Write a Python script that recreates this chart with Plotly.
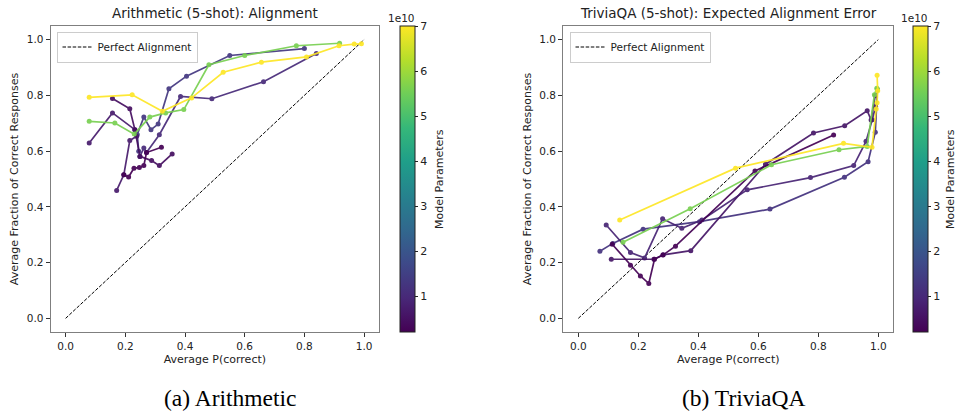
import plotly.graph_objects as go
from plotly.colors import sample_colorscale

# ---------------- data ----------------
CMIN, CMAX = 0.2e10, 7.0e10
cbar_ticks = [1e10, 2e10, 3e10, 4e10, 5e10, 6e10, 7e10]
cbar_labels = ["1", "2", "3", "4", "5", "6", "7"]
axis_ticks = [0.0, 0.2, 0.4, 0.6, 0.8, 1.0]

# Arithmetic (5-shot)
arith_params = [1.3e10, 1.0e10, 0.7e10, 0.45e10, 0.2e10, 5.6e10, 7.0e10]
arith_a_x = [0.80, 0.55, 0.405, 0.346, 0.31, 0.286, 0.262, 0.24, 0.245]
arith_a_y = [0.968, 0.943, 0.869, 0.824, 0.697, 0.677, 0.722, 0.66, 0.60]
arith_b_x = [0.84, 0.663, 0.49, 0.385, 0.314, 0.271, 0.262, 0.249]
arith_b_y = [0.95, 0.849, 0.788, 0.796, 0.659, 0.595, 0.611, 0.581]
arith_c_x = [0.079, 0.157, 0.232, 0.238, 0.215, 0.195, 0.171]
arith_c_y = [0.629, 0.737, 0.677, 0.653, 0.638, 0.515, 0.459]
arith_d_x = [0.157, 0.215, 0.232, 0.249, 0.288, 0.314, 0.357]
arith_d_y = [0.789, 0.752, 0.677, 0.581, 0.566, 0.548, 0.590]
arith_e_x = [0.195, 0.211, 0.229, 0.247, 0.262, 0.271, 0.321]
arith_e_y = [0.515, 0.507, 0.539, 0.541, 0.548, 0.595, 0.614]
arith_g_x = [0.079, 0.165, 0.230, 0.282, 0.335, 0.396, 0.480, 0.600, 0.773, 0.918]
arith_g_y = [0.707, 0.701, 0.661, 0.722, 0.737, 0.749, 0.910, 0.943, 0.978, 0.987]
arith_y_x = [0.079, 0.223, 0.324, 0.422, 0.528, 0.656, 0.807, 0.916, 0.967, 0.991]
arith_y_y = [0.793, 0.802, 0.743, 0.791, 0.883, 0.919, 0.938, 0.978, 0.984, 0.985]

# TriviaQA (5-shot)
trivia_params = [1.2e10, 0.9e10, 0.6e10, 0.2e10, 5.6e10, 7.0e10]
trivia_a_x = [0.072, 0.115, 0.216, 0.404, 0.639, 0.887, 0.966, 0.990, 0.997]
trivia_a_y = [0.241, 0.269, 0.320, 0.347, 0.392, 0.506, 0.562, 0.668, 0.820]
trivia_b_x = [0.093, 0.174, 0.221, 0.281, 0.345, 0.412, 0.563, 0.774, 0.918, 0.959, 0.980, 0.991]
trivia_b_y = [0.335, 0.236, 0.217, 0.357, 0.323, 0.353, 0.461, 0.505, 0.548, 0.635, 0.713, 0.760]
trivia_c_x = [0.110, 0.252, 0.283, 0.375, 0.624, 0.784, 0.888, 0.963, 0.976, 0.990]
trivia_c_y = [0.212, 0.212, 0.228, 0.243, 0.553, 0.665, 0.691, 0.745, 0.712, 0.800]
trivia_d_x = [0.113, 0.174, 0.207, 0.235, 0.254, 0.282, 0.324, 0.589, 0.851]
trivia_d_y = [0.266, 0.191, 0.152, 0.125, 0.212, 0.227, 0.259, 0.529, 0.658]
trivia_g_x = [0.149, 0.373, 0.644, 0.869, 0.963, 0.987, 0.995, 0.997]
trivia_g_y = [0.273, 0.393, 0.551, 0.605, 0.617, 0.802, 0.826, 0.823]
trivia_y_x = [0.138, 0.524, 0.884, 0.979, 0.993, 0.996, 0.998, 0.996]
trivia_y_y = [0.353, 0.539, 0.628, 0.614, 0.751, 0.774, 0.817, 0.872]

diag = [0.0, 1.0]

arith_series = [(arith_a_x, arith_a_y), (arith_b_x, arith_b_y), (arith_c_x, arith_c_y),
                (arith_d_x, arith_d_y), (arith_e_x, arith_e_y), (arith_g_x, arith_g_y),
                (arith_y_x, arith_y_y)]
trivia_series = [(trivia_a_x, trivia_a_y), (trivia_b_x, trivia_b_y), (trivia_c_x, trivia_c_y),
                 (trivia_d_x, trivia_d_y), (trivia_g_x, trivia_g_y), (trivia_y_x, trivia_y_y)]

# ---------------- figure ----------------
W, H = 959, 415
def px(x):
    return x / W
def py(y):
    return 1 - y / H

FONT = "DejaVu Sans"
TXT = "#222"
fig = go.Figure()

def color_of(p):
    return sample_colorscale("Viridis", [(p - CMIN) / (CMAX - CMIN)])[0]

panels = [
    dict(xa="x", ya="y", series=arith_series, params=arith_params, legend="legend"),
    dict(xa="x2", ya="y2", series=trivia_series, params=trivia_params, legend="legend2"),
]

for pnl in panels:
    fig.add_trace(go.Scatter(
        x=diag, y=diag, mode="lines", name="Perfect Alignment",
        line=dict(color="black", width=1, dash="3.5px,1.6px"),
        xaxis=pnl["xa"], yaxis=pnl["ya"], legend=pnl["legend"], showlegend=True))
    for (sx, sy), p in zip(pnl["series"], pnl["params"]):
        c = color_of(p)
        fig.add_trace(go.Scatter(
            x=sx, y=sy, mode="lines+markers",
            line=dict(color=c, width=1.7), marker=dict(color=c, size=5),
            opacity=0.92, xaxis=pnl["xa"], yaxis=pnl["ya"], showlegend=False,
            hoverinfo="skip"))

# colorbars (dummy traces)
cb_x = [px(400), px(913)]
for i, (xa, ya) in enumerate([("x", "y"), ("x2", "y2")]):
    fig.add_trace(go.Scatter(
        x=[None], y=[None], mode="markers", xaxis=xa, yaxis=ya, showlegend=False,
        marker=dict(color=[CMIN], cmin=CMIN, cmax=CMAX, colorscale="Viridis", showscale=True,
                    colorbar=dict(x=cb_x[i], xanchor="left", xref="paper",
                                  y=py(332), yanchor="bottom", len=(332 - 26) / H, lenmode="fraction",
                                  thickness=15, thicknessmode="pixels",
                                  outlinewidth=1, outlinecolor=TXT,
                                  tickvals=cbar_ticks, ticktext=cbar_labels,
                                  ticks="outside", ticklen=3, tickcolor=TXT,
                                  tickfont=dict(family=FONT, size=11, color=TXT),
                                  xpad=0, ypad=0))))

axis_common = dict(range=[-0.05, 1.05], tickvals=axis_ticks, tickformat=".1f",
                   showgrid=False, zeroline=False, showline=True, mirror=True,
                   linecolor="#7f7f7f", linewidth=1.3, ticks="outside", ticklen=4,
                   tickcolor="#333", tickfont=dict(family=FONT, size=10.5, color=TXT))

xt = dict(text="Average P(correct)", font=dict(family=FONT, size=11, color=TXT), standoff=4)
yt = dict(text="Average Fraction of Correct Responses", font=dict(family=FONT, size=11, color=TXT), standoff=5)
ydom = [py(332.3), py(25.7)]
leg_common = dict(xanchor="left", yanchor="top",
                  bgcolor="rgba(255,255,255,0.8)", bordercolor="#cccccc", borderwidth=1,
                  font=dict(family=FONT, size=10.5, color=TXT), itemwidth=30, tracegroupgap=0)
fig.update_layout(
    width=W, height=H, margin=dict(l=0, r=0, t=0, b=0),
    paper_bgcolor="white", plot_bgcolor="white",
    xaxis=dict(domain=[px(50.7), px(379)], anchor="y", **axis_common, title=xt),
    yaxis=dict(domain=ydom, anchor="x", **axis_common, title=yt),
    xaxis2=dict(domain=[px(563.3), px(893.3)], anchor="y2", **axis_common, title=xt),
    yaxis2=dict(domain=ydom, anchor="x2", **axis_common, title=yt),
    legend=dict(x=px(56.5), y=py(31.5), **leg_common),
    legend2=dict(x=px(569.5), y=py(31.5), **leg_common),
    showlegend=True,
)

annos = [
    dict(text="Arithmetic (5-shot): Alignment", x=px(215), y=py(13), size=13.5, family=FONT, angle=0, c=TXT),
    dict(text="TriviaQA (5-shot): Expected Alignment Error", x=px(728), y=py(13), size=13.5, family=FONT, angle=0, c=TXT),
    dict(text="1e10", x=px(401), y=py(18), size=10.5, family=FONT, angle=0, c=TXT),
    dict(text="1e10", x=px(914), y=py(18), size=10.5, family=FONT, angle=0, c=TXT),
    dict(text="Model Parameters", x=px(439), y=py(179), size=11, family=FONT, angle=-90, c=TXT),
    dict(text="Model Parameters", x=px(950), y=py(179), size=11, family=FONT, angle=-90, c=TXT),
    dict(text="(a) Arithmetic", x=px(230), y=py(398), size=23.5, family="Liberation Serif", angle=0, c="black"),
    dict(text="(b) TriviaQA", x=px(743), y=py(398), size=23.5, family="Liberation Serif", angle=0, c="black"),
]
for a in annos:
    fig.add_annotation(text=a["text"], x=a["x"], y=a["y"], xref="paper", yref="paper",
                       xanchor="center", yanchor="middle", showarrow=False, textangle=a["angle"],
                       font=dict(family=a["family"], size=a["size"], color=a["c"]))

fig.write_html("out.html")
